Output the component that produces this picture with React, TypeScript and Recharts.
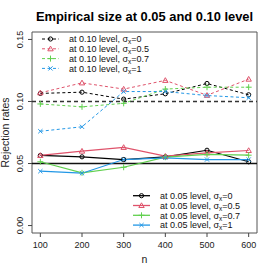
import React from 'react';
import { LineChart, Line, XAxis, YAxis, ReferenceLine, ReferenceArea } from 'recharts';

// sample sizes on the x axis
const N = [100, 200, 300, 400, 500, 600];

// rejection rates at the 0.10 level
const LVL10_S0 = [0.1065, 0.1075, 0.1019, 0.1062, 0.1145, 0.1054];
const LVL10_S05 = [0.107, 0.115, 0.11, 0.117, 0.105, 0.118];
const LVL10_S07 = [0.098, 0.0957, 0.0985, 0.11, 0.1115, 0.1115];
const LVL10_S1 = [0.076, 0.0796, 0.108, 0.108, 0.1048, 0.103];

// rejection rates at the 0.05 level
const LVL05_S0 = [0.0565, 0.0554, 0.0532, 0.0554, 0.0607, 0.0514];
const LVL05_S05 = [0.0565, 0.06, 0.063, 0.0559, 0.0586, 0.0605];
const LVL05_S07 = [0.0514, 0.0425, 0.047, 0.0551, 0.0573, 0.0567];
const LVL05_S1 = [0.0438, 0.0422, 0.0532, 0.0546, 0.0532, 0.0532];

const X_TICKS = [100, 200, 300, 400, 500, 600];
const Y_TICKS = [0, 0.05, 0.1, 0.15];
const SIGMAS = ['0', '0.5', '0.7', '1'];

const COLORS = ['#000000', '#DF536B', '#61D04F', '#2297E6'];
const SHAPES = ['circle', 'triangle', 'plus', 'cross'] as const;
type Shape = (typeof SHAPES)[number];

const FONT = '"Liberation Sans", Arial, Helvetica, sans-serif';

const data = N.map((n, i) => ({
  n,
  a0: LVL10_S0[i],
  a1: LVL10_S05[i],
  a2: LVL10_S07[i],
  a3: LVL10_S1[i],
  b0: LVL05_S0[i],
  b1: LVL05_S05[i],
  b2: LVL05_S07[i],
  b3: LVL05_S1[i],
}));

function Marker({ shape, cx, cy, color }: { shape: Shape; cx: number; cy: number; color: string }) {
  const sw = 1;
  if (shape === 'circle') {
    return <circle cx={cx} cy={cy} r={2.1} fill="none" stroke={color} strokeWidth={sw} />;
  }
  if (shape === 'triangle') {
    const h = 2.7;
    return (
      <polygon
        points={`${cx},${cy - h} ${cx - h},${cy + h * 0.75} ${cx + h},${cy + h * 0.75}`}
        fill="none"
        stroke={color}
        strokeWidth={sw}
      />
    );
  }
  if (shape === 'plus') {
    const h = 3;
    return (
      <g stroke={color} strokeWidth={sw}>
        <line x1={cx - h} y1={cy} x2={cx + h} y2={cy} />
        <line x1={cx} y1={cy - h} x2={cx} y2={cy + h} />
      </g>
    );
  }
  const h = 2.1;
  return (
    <g stroke={color} strokeWidth={sw}>
      <line x1={cx - h} y1={cy - h} x2={cx + h} y2={cy + h} />
      <line x1={cx - h} y1={cy + h} x2={cx + h} y2={cy - h} />
    </g>
  );
}

const makeDot = (shape: Shape, color: string) => (p: any) => (
  <Marker key={`${shape}-${p.index}`} shape={shape} cx={p.cx} cy={p.cy} color={color} />
);

const XTick = (p: any) => (
  <text x={p.x} y={p.y} dy="0.71em" textAnchor="middle" fontSize={9} fill="#222" fontFamily={FONT}>
    {p.payload.value}
  </text>
);

const YTick = (p: any) => (
  <g transform={`translate(${p.x - 6},${p.y}) rotate(-90)`}>
    <text textAnchor="middle" dy="0.35em" fontSize={9} fill="#222" fontFamily={FONT}>
      {Number(p.payload.value).toFixed(2)}
    </text>
  </g>
);

function LegendBlock({ x, y, level, dashed }: { x: number; y: number; level: string; dashed: boolean }) {
  return (
    <g fontFamily={FONT} fontSize={9} fill="#111">
      {SIGMAS.map((s, i) => {
        const cy = y + i * 9.8;
        return (
          <g key={s}>
            <line
              x1={x}
              x2={x + 17}
              y1={cy}
              y2={cy}
              stroke={COLORS[i]}
              strokeWidth={dashed ? 1 : 1.3}
              strokeDasharray={dashed ? '3 2.5' : undefined}
            />
            <Marker shape={SHAPES[i]} cx={x + 8.5} cy={cy} color={COLORS[i]} />
            <text x={x + 27} y={cy + 3.2}>
              {`at ${level} level, σ`}
              <tspan fontSize={6.5} dy={2}>x</tspan>
              <tspan dy={-2}>{`=${s}`}</tspan>
            </text>
          </g>
        );
      })}
    </g>
  );
}

export default function App() {
  const series10 = ['a0', 'a1', 'a2', 'a3'];
  const series05 = ['b0', 'b1', 'b2', 'b3'];

  return (
    <div style={{ position: 'absolute', left: 0, top: 0, width: 274, height: 274, background: '#fff' }}>
      <LineChart width={274} height={274} data={data} margin={{ top: 32, right: 17, bottom: 11, left: 2 }}>
        <XAxis
          dataKey="n"
          type="number"
          domain={[80, 620]}
          ticks={X_TICKS}
          allowDataOverflow
          height={30}
          axisLine={false}
          tickSize={4}
          tickMargin={5}
          tickLine={{ stroke: '#444' }}
          tick={XTick}
        />
        <YAxis
          type="number"
          domain={[-0.006, 0.156]}
          ticks={Y_TICKS}
          allowDataOverflow
          width={30}
          axisLine={false}
          tickSize={4}
          tickMargin={2}
          tickLine={{ stroke: '#444' }}
          tick={YTick}
        />
        <ReferenceArea x1={80} x2={620} y1={-0.006} y2={0.156} fill="none" stroke="#555" strokeWidth={1} />
        <ReferenceLine y={0.1} stroke="#333" strokeWidth={1.5} strokeDasharray="4 3" />
        <ReferenceLine y={0.05} stroke="#111" strokeWidth={1.3} />
        {series10.map((k, i) => (
          <Line
            key={k}
            dataKey={k}
            type="linear"
            stroke={COLORS[i]}
            strokeWidth={1}
            strokeDasharray="3 2.5"
            dot={makeDot(SHAPES[i], COLORS[i])}
            activeDot={false}
            isAnimationActive={false}
          />
        ))}
        {series05.map((k, i) => (
          <Line
            key={k}
            dataKey={k}
            type="linear"
            stroke={COLORS[i]}
            strokeWidth={1.2}
            dot={makeDot(SHAPES[i], COLORS[i])}
            activeDot={false}
            isAnimationActive={false}
          />
        ))}
      </LineChart>
      <svg width={274} height={274} style={{ position: 'absolute', left: 0, top: 0, pointerEvents: 'none' }}>
        <text x={144.5} y={21} textAnchor="middle" fontFamily={FONT} fontWeight="bold" fontSize={12.9} fill="#000">
          Empirical size at 0.05 and 0.10 level
        </text>
        <text
          transform="translate(8.5,132.5) rotate(-90)"
          textAnchor="middle"
          fontFamily={FONT}
          fontSize={10.5}
          fill="#222"
        >
          Rejection rates
        </text>
        <text x={144.5} y={263} textAnchor="middle" fontFamily={FONT} fontSize={10.5} fill="#222">
          n
        </text>
        <LegendBlock x={42} y={39} level="0.10" dashed />
        <LegendBlock x={133} y={195.7} level="0.05" dashed={false} />
      </svg>
    </div>
  );
}
